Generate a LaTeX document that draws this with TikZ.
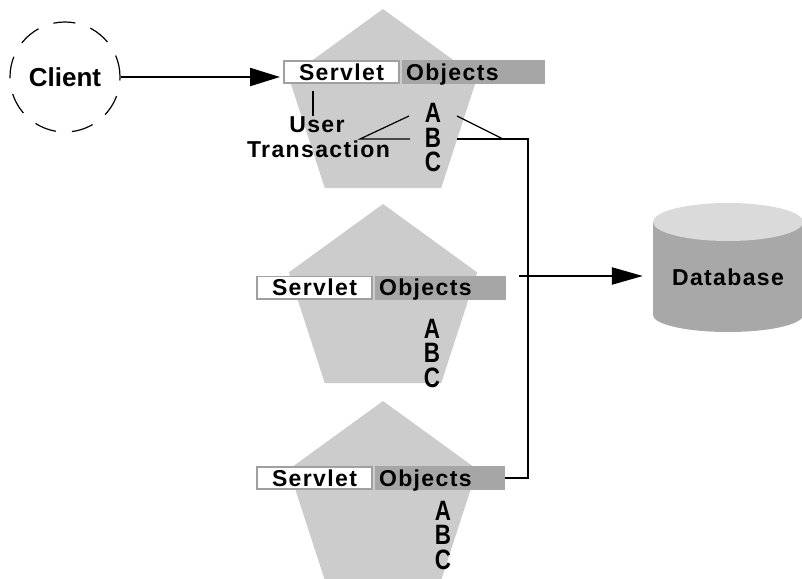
\documentclass[tikz,border=0pt]{standalone}
\usepackage{fontspec}
\setmainfont{Liberation Sans}
\newfontfamily\lblfont[LetterSpace=6]{Liberation Sans}
\usetikzlibrary{arrows.meta}
\definecolor{pent}{HTML}{CCCCCC}
\definecolor{objg}{HTML}{A6A6A6}
\definecolor{boxline}{HTML}{A0A0A0}
\definecolor{dbtop}{HTML}{DADADA}
\definecolor{dbbody}{HTML}{A8A8A8}
\tikzset{
  lbl/.style={font=\lblfont\bfseries\fontsize{23}{26}\selectfont, inner sep=0pt},
  servbox/.style={lbl, draw=boxline, line width=1.6pt, fill=white,
    minimum width=115.4pt, minimum height=22.4pt,
    text height=19.2pt, text depth=3.2pt},
  objbox/.style={lbl, fill=objg, minimum height=24pt, inner xsep=4pt,
    text height=20pt, text depth=4pt,
    text width=#1, align=left},
  abc/.style={font=\bfseries\fontsize{28}{24.5}\selectfont, inner sep=0pt, align=center},
  conn/.style={line width=2.2pt},
  thinconn/.style={line width=1.2pt},
  tipA/.style={-{Triangle[length=30pt,width=18pt]}},
}
\newcommand{\nar}[1]{\scalebox{0.8}[1]{#1}}
\begin{document}
\begin{tikzpicture}[x=1pt,y=-1pt]
\useasboundingbox (0,0) rectangle (802,578);
% pentagons
\foreach \c in {108,303,500}{
  \fill[pent] (383,\c-99) -- (477.2,\c-30.6) -- (441.2,\c+80.1)
    -- (324.8,\c+80.1) -- (288.8,\c-30.6) -- cycle;
}
% database cylinder
\fill[dbbody] (653,222) -- (653,315)
  arc[start angle=180, end angle=0, x radius=75, y radius=17]
  -- (803,222) -- cycle;
\fill[dbtop] (728,222) ellipse[x radius=75, y radius=19];
\node[minimum width=150pt, minimum height=93pt, inner sep=0pt] (db) at (728,268) {};
\node[lbl] (dbt) at (728,277) {Database};

% client
\node[circle, draw, line width=1.2pt, dash pattern=on 22pt off 16pt,
  minimum size=110pt, inner sep=0pt,
  font=\bfseries\fontsize{26}{30}\selectfont] (client) at (65,77) {Client};

% boxes
\node[servbox] (s1) at (341.5,72) {Servlet};
\node[objbox=135pt] (o1) at (473.5,72) {Objects};
\node[servbox] (s2) at (314.5,287.5) {Servlet};
\node[objbox=123pt] (o2) at (440.5,287.5) {Objects};
\node[servbox] (s3) at (314.5,478) {Servlet};
\node[objbox=122pt] (o3) at (440,478) {Objects};

% ABC letters
\node[abc] (abc1) at (433,138) {\nar{A}\\\nar{B}\\\nar{C}};
\node[abc] (abc2) at (432,353) {\nar{A}\\\nar{B}\\\nar{C}};
\node[abc] (abc3) at (443,535) {\nar{A}\\\nar{B}\\\nar{C}};

% user transaction
\node[lbl, anchor=base] (user) at (317,132) {User};
\node[lbl, anchor=base] (trans) at (318.5,157) {Transaction};

% connectors
\draw[conn, tipA, shorten >=3pt] (client.east) -- (client.east -| s1.west);
\coordinate (utop) at (313,91);
\draw[thinconn] (utop) -- (utop |- user.north);
\coordinate (tj) at (360,139);
\coordinate (ta) at (409,116);
\coordinate (tb) at (410,139);
\draw[thinconn] (ta) -- (tj) -- (tb);
\coordinate (ra) at (457,116);
\coordinate (rj) at (503,139);
\draw[thinconn] (ra) -- (rj);
\coordinate (rb) at (457,139);
\coordinate (bus1) at (528,139);
\coordinate (bus3) at (528,478);
\draw[conn] (rb) -- (bus1) -- (bus3) -- (o3.east);
\coordinate (dbs) at (519,276);
\draw[conn, -{Triangle[length=31pt,width=17pt]}, shorten >=10pt] (dbs) -- (dbs -| db.west);
\end{tikzpicture}
\end{document}
